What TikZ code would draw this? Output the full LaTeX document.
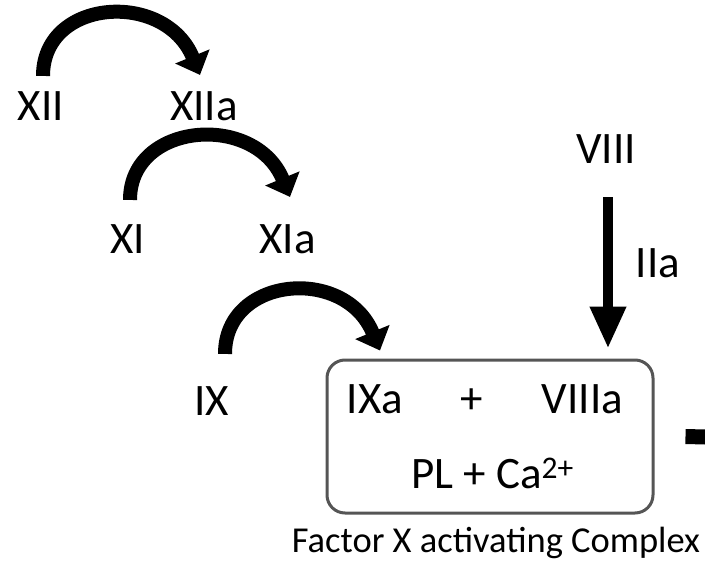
\documentclass[tikz,border=0pt]{standalone}
\usepackage{fontspec}
\setmainfont{Carlito}
\usetikzlibrary{arrows.meta,calc}
\definecolor{boxgray}{HTML}{555555}
\begin{document}
\begin{tikzpicture}[x=1pt,y=-1pt,
  lbl/.style={inner sep=0pt,anchor=base,font=\fontsize{45}{50}\selectfont},
  caption/.style={inner sep=0pt,anchor=base,font=\fontsize{36.5}{40}\selectfont},
  arcarrow/.style={line width=14pt,-{Triangle[width=36pt,length=20pt]}},
  downarrow/.style={line width=10pt,-{Triangle[width=34pt,length=42pt]}},
  cplx/.style={draw=boxgray,line width=3pt,rounded corners=18pt,minimum width=326pt,minimum height=153pt,inner sep=0pt}]
\useasboundingbox (0,0) rectangle (705,570);
% labels
\node[lbl] (XII) at (41,120) {XII};
\node[lbl] (XIIa) at (204,120) {XIIa};
\node[lbl] (XI) at (127.5,253) {XI};
\node[lbl] (XIa) at (287.5,253) {XIa};
\node[lbl] (VIII) at (606,163) {VIII};
\node[lbl] (IIa) at (658,277) {IIa};
\node[lbl] (IX) at (212,415) {IX};
% complex box
\node[cplx] (box) at (490,436.5) {};
\node[lbl] (IXa) at (375,413) {IXa};
\node[lbl] (plus) at (472,413) {+};
\node[lbl] (VIIIa) at (582.5,413) {VIIIa};
\node[lbl] (PLCa) at (492.5,488) {PL + Ca\textsuperscript{2+}};
\node[caption] (cap) at (496,552) {Factor X activating Complex};
% curved activation arrows
\draw[arcarrow] ($(XII.north)+(2,-15)$) .. controls +(0,-78) and +(-35,-85) .. ($(XIIa.north)+(-4,-16)$);
\draw[arcarrow] ($(XI.north)+(2.5,-24)$) .. controls +(0,-78) and +(-35,-85) .. ($(XIa.north)+(2.5,-27)$);
\draw[arcarrow] ($(IX.north)+(13,-32)$) .. controls +(0,-78) and +(-35,-85) .. ($(IXa.north |- box.north)+(5,-8)$);
% VIII -> complex
\draw[downarrow] ($(VIII.south)+(2,34)$) -- ($(VIII.south |- box.north)+(2,-10)$);
% truncated outgoing arrow
\draw[line width=15pt] ($(box.east)+(31,0)$) -- (705,437);
\end{tikzpicture}
\end{document}
